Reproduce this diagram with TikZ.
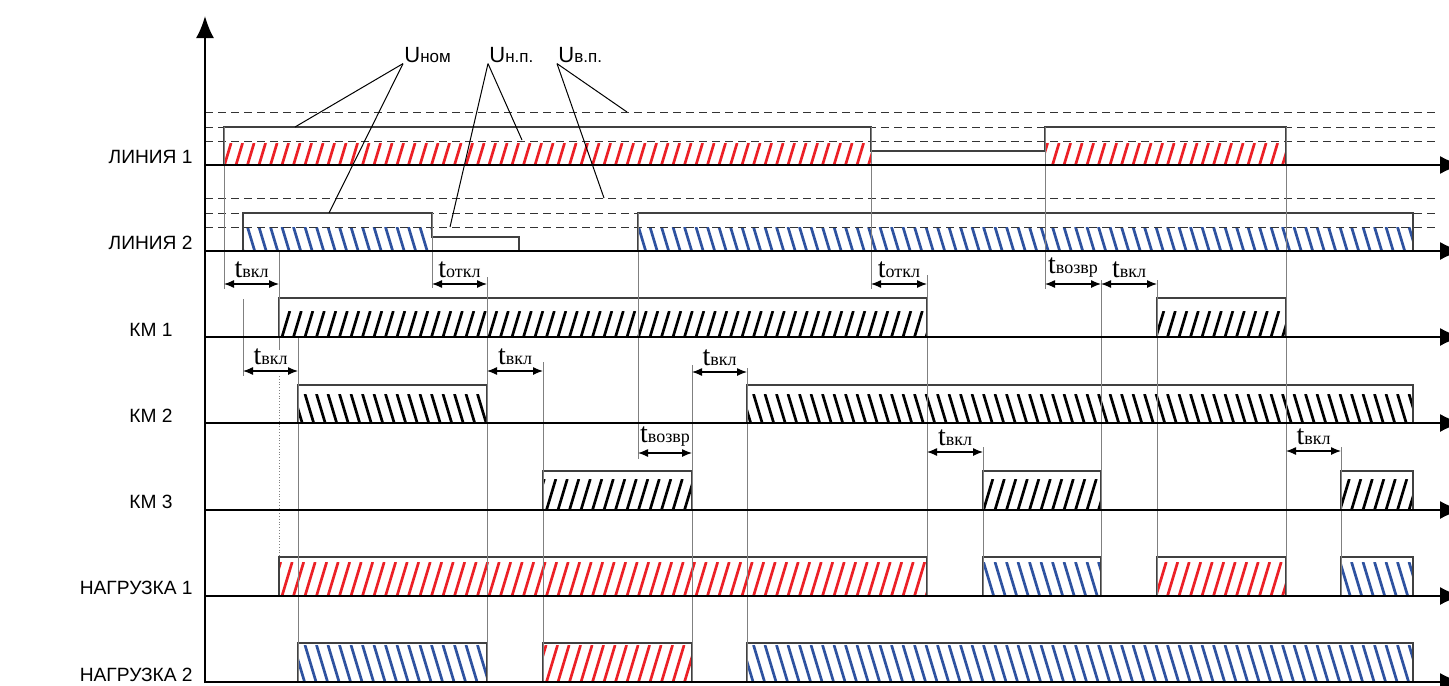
\documentclass[tikz,border=0pt]{standalone}
\usepackage{fontspec}
\setmainfont{Liberation Serif}
\setsansfont{Liberation Sans}
\usepackage{tikz}
\usetikzlibrary{arrows.meta}

\definecolor{hatchred}{RGB}{236,32,38}
\definecolor{hatchblue}{RGB}{46,82,160}

% hatched band between x=#1 and x=#2, strokes run from y=#3 to y=#4
\newcommand{\hatchband}[5]{%
  \begin{scope}
    \clip (#1,#3) rectangle (#2,#4);
    \pgfmathsetmacro{\hrun}{0.3*abs(#4-#3)}
    \foreach \k in {0,...,110}
      \draw[hatchline, #5] ({190+\k*11.5},#3) -- ({190+\k*11.5+\hrun},#4);
  \end{scope}}
\newcommand{\tsub}[1]{{\fontsize{9}{9}\selectfont #1}}
\newcommand{\usub}[1]{{\fontsize{8.5}{9}\selectfont #1}}

\tikzset{
  hatchline/.style={line width=1.35pt},
  axis/.style={line width=1pt, -{Latex[length=11pt,width=9pt]}},
  level/.style={dash pattern=on 4pt off 2.5pt, line width=0.5pt, black!80},
  signal/.style={line width=0.6pt, black!75},
  eventline/.style={line width=0.4pt, black!50},
  leader/.style={line width=0.5pt},
  dimline/.style={line width=0.6pt, {Latex[length=5pt,width=4pt]}-{Latex[length=5pt,width=4pt]}},
  rowlabel/.style={font=\sffamily\fontsize{9.6}{12}\selectfont, inner sep=0pt},
  ulabel/.style={font=\sffamily\fontsize{11}{12}\selectfont, inner sep=0.5pt},
  tlabel/.style={font=\fontsize{14}{14}\selectfont, inner sep=0pt},
}

\begin{document}
\begin{tikzpicture}[x=0.5pt, y=-0.5pt]
  \useasboundingbox (0,0) rectangle (1449,685);

  % hatching
  \hatchband{224}{871}{165}{143}{hatchred}
  \hatchband{1045}{1286}{165}{143}{hatchred}
  \hatchband{243}{432}{227}{251}{hatchblue}
  \hatchband{638}{1413}{227}{251}{hatchblue}
  \hatchband{279}{927}{337}{311}{black}
  \hatchband{1157}{1286}{337}{311}{black}
  \hatchband{298}{487}{394}{423}{black}
  \hatchband{747}{1413}{394}{423}{black}
  \hatchband{543}{692}{510}{479}{black}
  \hatchband{983}{1101}{510}{479}{black}
  \hatchband{1341}{1413}{510}{479}{black}
  \hatchband{279}{927}{596}{562}{hatchred}
  \hatchband{1157}{1286}{596}{562}{hatchred}
  \hatchband{983}{1101}{562}{596}{hatchblue}
  \hatchband{1341}{1413}{562}{596}{hatchblue}
  \hatchband{298}{487}{645}{682}{hatchblue}
  \hatchband{747}{1413}{645}{682}{hatchblue}
  \hatchband{543}{692}{682}{645}{hatchred}

  % voltage levels
  \foreach \yy in {112,127,141,198,213,227}
    \draw[level] (205,\yy) -- (1437,\yy);

  % signals
  \draw[signal] (224,165) -- (224,127) -- (871,127) -- (871,151) -- (1045,151)
    -- (1045,127) -- (1286,127) -- (1286,165);
  \draw[signal] (243,251) -- (243,213) -- (432,213) -- (432,237) -- (519,237) -- (519,251);
  \draw[signal] (638,251) -- (638,213) -- (1413,213) -- (1413,251);
  \foreach \xa/\xb/\yt/\yb in {279/927/298/337, 1157/1286/298/337,
      298/487/385/423, 747/1413/385/423,
      543/692/471/510, 983/1101/471/510, 1341/1413/471/510,
      279/927/557/596, 983/1101/557/596, 1157/1286/557/596, 1341/1413/557/596,
      298/487/643/682, 543/692/643/682, 747/1413/643/682}
    \draw[signal] (\xa,\yb) -- (\xa,\yt) -- (\xb,\yt) -- (\xb,\yb);

  % switching instants
  \foreach \xx/\ya/\yb in {224/127/289, 243/299/376, 279/251/350, 298/337/682,
      432/213/288, 487/277/682, 543/362/682, 638/213/459, 692/365/682,
      747/368/682, 871/127/289, 927/275/596, 983/447/596, 1045/127/289,
      1101/280/596, 1157/280/596, 1286/127/596, 1341/447/596}
    \draw[eventline] (\xx,\ya) -- (\xx,\yb);
  \draw[eventline, densely dotted] (279,376) -- (279,557);

  % time intervals
  \foreach \xa/\xb/\yy/\sub/\nm in {224/279/284/вкл/ta, 432/487/284/откл/tb,
      871/927/284/откл/tc, 1045/1101/284/возвр/td, 1101/1157/284/вкл/te,
      243/298/371/вкл/tf, 487/543/371/вкл/tg, 692/747/372/вкл/th,
      638/692/453/возвр/ti, 927/983/452/вкл/tj, 1286/1341/451/вкл/tk}
    \draw[dimline] (\xa,\yy) -- (\xb,\yy)
      node[midway, above=3pt, tlabel] (\nm) {t\tsub{\sub}};

  % axes
  \draw[axis] (205,683) -- (205,16);
  \foreach \yy in {165,251,337,423,510,596,682}
    \draw[axis] (205,\yy) -- (1462,\yy);

  % row names
  \node[rowlabel, anchor=east] (lin1) at (193,157) {ЛИНИЯ 1};
  \node[rowlabel, anchor=east] (lin2) at (193,243) {ЛИНИЯ 2};
  \node[rowlabel] (km1) at (151,330) {КМ 1};
  \node[rowlabel] (km2) at (151,416) {КМ 2};
  \node[rowlabel] (km3) at (151,502) {КМ 3};
  \node[rowlabel, anchor=east] (load1) at (193,588) {НАГРУЗКА 1};
  \node[rowlabel, anchor=east] (load2) at (193,675) {НАГРУЗКА 2};

  % level names
  \node[ulabel, anchor=base west] (unom) at (403,62) {U\usub{ном}};
  \node[ulabel, anchor=base west] (unp) at (488,62) {U\usub{н.п.}};
  \node[ulabel, anchor=base west] (uvp) at (557,62) {U\usub{в.п.}};
  \coordinate (nom1) at (295,127);
  \coordinate (nom2) at (329,213);
  \coordinate (np1) at (522,140);
  \coordinate (np2) at (450,227);
  \coordinate (vp1) at (627,112);
  \coordinate (vp2) at (604,198);
  \draw[leader] (unom.south west) -- (nom1);
  \draw[leader] (unom.south west) -- (nom2);
  \draw[leader] (unp.south west) -- (np1);
  \draw[leader] (unp.south west) -- (np2);
  \draw[leader] (uvp.south west) -- (vp1);
  \draw[leader] (uvp.south west) -- (vp2);
\end{tikzpicture}
\end{document}
